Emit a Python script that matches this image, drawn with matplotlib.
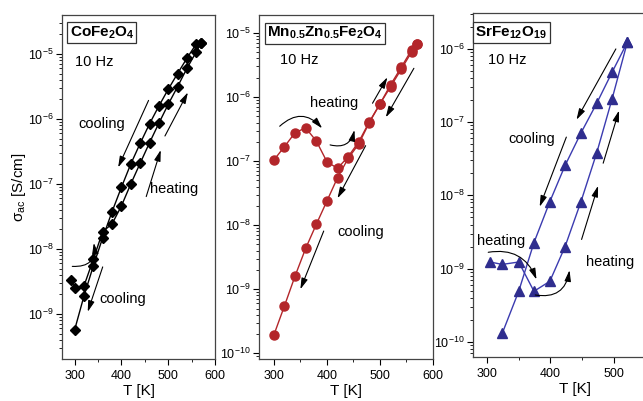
import matplotlib
matplotlib.use("Agg")
import matplotlib.pyplot as plt
from matplotlib.ticker import LogLocator, MultipleLocator, NullFormatter

plt.rcParams['font.family'] = ['Liberation Sans', 'DejaVu Sans']
plt.rcParams['mathtext.fontset'] = 'custom'
plt.rcParams['mathtext.rm'] = 'Liberation Sans'
plt.rcParams['mathtext.it'] = 'Liberation Sans:italic'
plt.rcParams['mathtext.bf'] = 'Liberation Sans:bold'

# CoFe2O4, 10 Hz
co_T_cool = [570, 560, 540, 520, 500, 480, 460, 440, 420, 400, 380, 360, 340, 320, 300]
co_s_cool = [1.49e-5, 1.43e-5, 8.6e-6, 5.0e-6, 2.86e-6, 1.58e-6, 8.4e-7, 4.2e-7, 2.03e-7,
             8.9e-8, 3.75e-8, 1.49e-8, 5.5e-9, 1.89e-9, 5.7e-10]
co_T_heat = [293, 300, 320, 340, 360, 380, 400, 420, 440, 460, 480, 500, 520, 540, 560, 570]
co_s_heat = [3.3e-9, 2.5e-9, 2.7e-9, 6.95e-9, 1.85e-8, 2.43e-8, 4.6e-8, 1.0e-7, 2.08e-7,
             4.3e-7, 8.6e-7, 1.68e-6, 3.14e-6, 6.0e-6, 1.08e-5, 1.49e-5]

# Mn0.5Zn0.5Fe2O4, 10 Hz
mn_T_heat = [300, 320, 340, 360, 380, 400, 420, 440, 460, 480, 500, 520, 540, 560, 570]
mn_s_heat = [1.04e-7, 1.68e-7, 2.78e-7, 3.3e-7, 2.06e-7, 9.8e-8, 7.7e-8, 1.17e-7, 2.0e-7,
             4.1e-7, 7.8e-7, 1.55e-6, 2.9e-6, 5.5e-6, 6.7e-6]
mn_T_cool = [570, 560, 540, 520, 500, 480, 460, 440, 420, 400, 380, 360, 340, 320, 300]
mn_s_cool = [6.7e-6, 5.1e-6, 2.7e-6, 1.45e-6, 7.8e-7, 4.0e-7, 1.85e-7, 1.1e-7, 5.5e-8,
             2.38e-8, 1.03e-8, 4.35e-9, 1.61e-9, 5.5e-10, 1.93e-10]

# SrFe12O19, 10 Hz
sr_T_heat = [305, 324, 350, 374, 399, 423, 448, 473, 497, 521]
sr_s_heat = [1.23e-9, 1.14e-9, 1.23e-9, 4.9e-10, 6.7e-10, 2.0e-9, 8.2e-9, 3.85e-8, 2.07e-7, 1.23e-6]
sr_T_cool = [521, 497, 473, 448, 423, 399, 374, 350, 324]
sr_s_cool = [1.23e-6, 4.8e-7, 1.82e-7, 7.1e-8, 2.56e-8, 8.2e-9, 2.26e-9, 4.9e-10, 1.3e-10]

fig = plt.figure(figsize=(6.43, 4.01), dpi=100)
ax1 = fig.add_axes([0.0964, 0.1047, 0.238, 0.858])
ax2 = fig.add_axes([0.4028, 0.1047, 0.2706, 0.858])
ax3 = fig.add_axes([0.7356, 0.1097, 0.318, 0.858])


def style(ax, xlim, ylim):
    ax.set_yscale('log')
    ax.set_xlim(*xlim)
    ax.set_ylim(*ylim)
    ax.xaxis.set_major_locator(MultipleLocator(100))
    ax.xaxis.set_minor_locator(MultipleLocator(50))
    ax.yaxis.set_major_locator(LogLocator(base=10, numticks=20))
    ax.yaxis.set_minor_locator(LogLocator(base=10, subs=range(2, 10), numticks=20))
    ax.yaxis.set_minor_formatter(NullFormatter())
    ax.tick_params(which='major', direction='out', length=4, width=0.8, labelsize=9, pad=2)
    ax.tick_params(which='minor', direction='out', length=2, width=0.6)
    ax.tick_params(axis='x', pad=4)
    for s in ax.spines.values():
        s.set_color('#444444')
        s.set_linewidth(0.9)
    ax.set_xlabel('T [K]', fontsize=11, labelpad=1)


def arrow(ax, start, end, rad=0.0):
    ax.annotate('', xy=end, xytext=start,
                arrowprops=dict(arrowstyle='-|>,head_length=0.55,head_width=0.16',
                                color='black', lw=0.8, shrinkA=0, shrinkB=0,
                                mutation_scale=12,
                                connectionstyle='arc3,rad=%g' % rad))


def label_box(ax, text, x, y):
    ax.text(x, y, text, transform=ax.transAxes, fontsize=11, va='center', ha='left',
            bbox=dict(boxstyle='square,pad=0.15', fc='white', ec='#333333', lw=0.9))


# panel 1
style(ax1, (273, 600), (2.03e-10, 3.98e-5))
ax1.plot(co_T_cool, co_s_cool, '-D', color='black', ms=5, lw=1.0)
ax1.plot(co_T_heat, co_s_heat, '-D', color='black', ms=5, lw=1.0)
label_box(ax1, r'$\mathbf{CoFe_2O_4}$', 0.05, 0.948)
ax1.text(0.085, 0.863, '10 Hz', transform=ax1.transAxes, fontsize=10.5, va='center')
ax1.text(357, 8.4e-7, 'cooling', fontsize=10.5, ha='center', va='center')
ax1.text(513, 8.4e-8, 'heating', fontsize=10.5, ha='center', va='center')
ax1.text(403, 1.68e-9, 'cooling', fontsize=10.5, ha='center', va='center')
arrow(ax1, (458, 1.93e-6), (393, 1.8e-7))
arrow(ax1, (493, 5.47e-7), (542, 2.56e-6))
arrow(ax1, (453, 6.4e-8), (484, 3.33e-7))
arrow(ax1, (360, 5.3e-9), (328, 1.08e-9))
arrow(ax1, (295, 5.4e-9), (341, 1.24e-8), rad=0.6)
ax1.set_ylabel(r'σ$_{\mathrm{ac}}$ [S/cm]', fontsize=11)
ax1.yaxis.set_label_coords(-0.225, 0.5)

# panel 2
red = '#b3262a'
style(ax2, (272, 600), (8.15e-11, 1.91e-5))
ax2.plot(mn_T_heat, mn_s_heat, '-o', color=red, ms=6.5, lw=1.0)
ax2.plot(mn_T_cool, mn_s_cool, '-o', color=red, ms=6.5, lw=1.0)
label_box(ax2, r'$\mathbf{Mn_{0.5}Zn_{0.5}Fe_2O_4}$', 0.045, 0.947)
ax2.text(0.12, 0.869, '10 Hz', transform=ax2.transAxes, fontsize=10.5, va='center')
ax2.text(414, 8.2e-7, 'heating', fontsize=10.5, ha='center', va='center')
ax2.text(464, 7.9e-9, 'cooling', fontsize=10.5, ha='center', va='center')
arrow(ax2, (311, 3.5e-7), (391, 3.25e-7), rad=-0.5)
arrow(ax2, (406, 1.79e-7), (452, 3.06e-7), rad=0.5)
arrow(ax2, (486, 8.0e-7), (514, 2.03e-6))
arrow(ax2, (564, 2.81e-6), (511, 4.83e-7))
arrow(ax2, (473, 1.74e-7), (420, 2.63e-8))
arrow(ax2, (394, 8.1e-9), (350, 1.0e-9))

# panel 3
blue = '#2f2d8e'
style(ax3, (278, 600), (6.2e-11, 3.1e-6))
ax3.plot(sr_T_heat, sr_s_heat, '-^', color='#3b3bb0', mfc=blue, mec=blue, ms=7, lw=1.0)
ax3.plot(sr_T_cool, sr_s_cool, '-^', color='#3b3bb0', mfc=blue, mec=blue, ms=7, lw=1.0)
label_box(ax3, r'$\mathbf{SrFe_{12}O_{19}}$', 0.012, 0.943)
ax3.text(0.075, 0.863, '10 Hz', transform=ax3.transAxes, fontsize=10.5, va='center')
ax3.text(370, 5.9e-8, 'cooling', fontsize=10.5, ha='center', va='center')
ax3.text(322, 2.41e-9, 'heating', fontsize=10.5, ha='center', va='center')
ax3.text(494, 1.24e-9, 'heating', fontsize=10.5, ha='center', va='center')
arrow(ax3, (503, 1.0e-6), (441, 1.08e-7))
arrow(ax3, (425, 6.25e-8), (383, 7.0e-9))
arrow(ax3, (483, 2.75e-8), (508, 1.44e-7))
arrow(ax3, (449, 2.5e-9), (475, 1.35e-8))
arrow(ax3, (302, 1.67e-9), (378, 7.1e-10), rad=-0.4)
arrow(ax3, (376, 4.36e-10), (430, 9.5e-10), rad=0.5)

fig.savefig('out.png', dpi=100)
